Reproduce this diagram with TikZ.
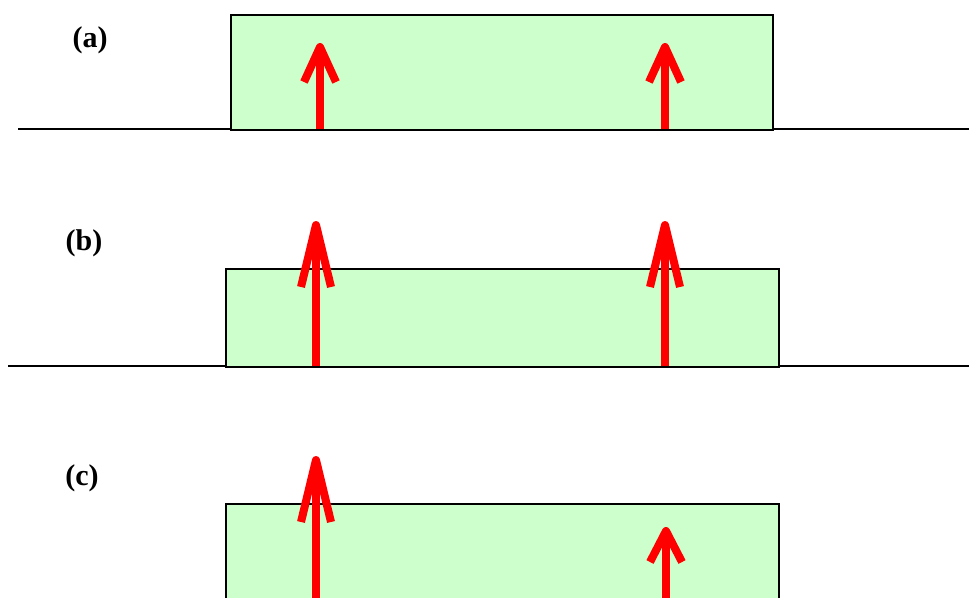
\documentclass[tikz,border=0pt]{standalone}
\usepackage{fontspec}
\setmainfont{Liberation Serif}
\definecolor{boxgreen}{HTML}{CCFFCC}
\definecolor{arrred}{HTML}{FF0000}
\tikzset{
  px/.style={x=1pt,y=-1pt},
  slab/.style={draw=black,fill=boxgreen,line width=1.5pt},
  ground/.style={draw=black,line width=1.3pt},
  redarrow/.style={draw=arrred,line width=8pt,line join=round},
  lab/.style={font=\fontsize{30}{34}\selectfont\bfseries,anchor=center,inner sep=0pt}
}
\begin{document}
\begin{tikzpicture}[px]
\useasboundingbox (0,0) rectangle (969,597);
\clip (0,0) rectangle (969,597);
% (a)
\draw[ground] (18,129) -- (969,129);
\node[slab,minimum width=542pt,minimum height=115pt,inner sep=0pt,anchor=north west] (boxa) at (230,14) {};
\node[lab] (la) at (90,40) {(a)};
\coordinate (a1b) at (320,129); \coordinate (a1t) at (320,47);
\coordinate (a2b) at (665,129); \coordinate (a2t) at (665,47);
\draw[redarrow] (a1b) -- (a1t);
\draw[redarrow] ([xshift=-16pt,yshift=-35pt]a1t) -- (a1t) -- ([xshift=16pt,yshift=-35pt]a1t);
\draw[redarrow] (a2b) -- (a2t);
\draw[redarrow] ([xshift=-16pt,yshift=-35pt]a2t) -- (a2t) -- ([xshift=16pt,yshift=-35pt]a2t);
% (b)
\draw[ground] (8,366) -- (969,366);
\node[slab,minimum width=553pt,minimum height=98pt,inner sep=0pt,anchor=north west] (boxb) at (225,268) {};
\node[lab] (lb) at (84,243) {(b)};
\coordinate (b1b) at (316,366); \coordinate (b1t) at (316,225);
\coordinate (b2b) at (665,366); \coordinate (b2t) at (665,225);
\draw[redarrow] (b1b) -- (b1t);
\draw[redarrow] ([xshift=-15pt,yshift=-62pt]b1t) -- (b1t) -- ([xshift=15pt,yshift=-62pt]b1t);
\draw[redarrow] (b2b) -- (b2t);
\draw[redarrow] ([xshift=-15pt,yshift=-62pt]b2t) -- (b2t) -- ([xshift=15pt,yshift=-62pt]b2t);
% (c)
\node[slab,minimum width=553pt,minimum height=120pt,inner sep=0pt,anchor=north west] (boxc) at (225,503) {};
\node[lab] (lc) at (82,478) {(c)};
\coordinate (c1b) at (316,600); \coordinate (c1t) at (316,460);
\coordinate (c2b) at (666,600); \coordinate (c2t) at (666,531);
\draw[redarrow] (c1b) -- (c1t);
\draw[redarrow] ([xshift=-15pt,yshift=-62pt]c1t) -- (c1t) -- ([xshift=15pt,yshift=-62pt]c1t);
\draw[redarrow] (c2b) -- (c2t);
\draw[redarrow] ([xshift=-16pt,yshift=-31pt]c2t) -- (c2t) -- ([xshift=16pt,yshift=-31pt]c2t);
\end{tikzpicture}
\end{document}
